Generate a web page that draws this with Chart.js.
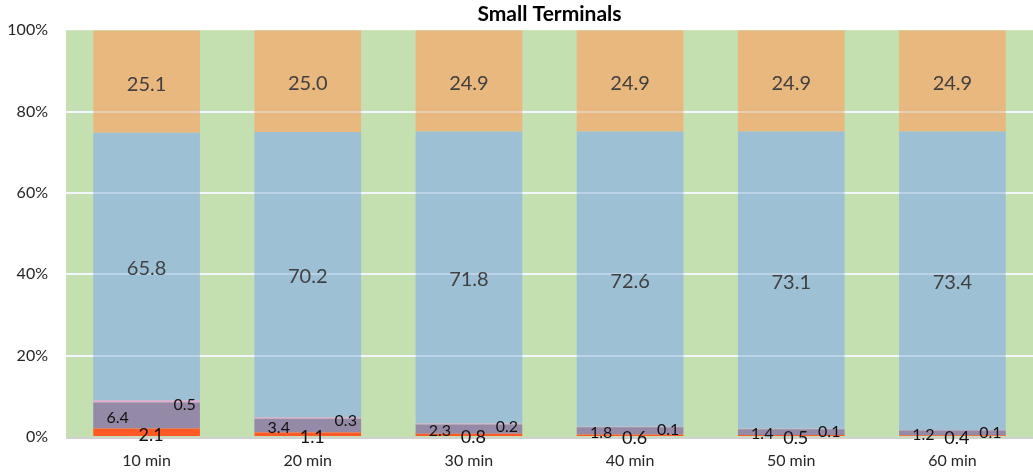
<!DOCTYPE html>
<html>
<head>
<meta charset="utf-8">
<script src="https://cdn.jsdelivr.net/npm/chart.js@4.4.0/dist/chart.umd.min.js"></script>
<style>
  html, body { margin: 0; padding: 0; background: #ffffff; }
  #wrap { width: 1033px; height: 475px; position: relative; }
</style>
</head>
<body>
<div id="wrap"><canvas id="c"></canvas></div>
<script>
const categories = ['10 min', '20 min', '30 min', '40 min', '50 min', '60 min'];
const redValues    = [2.1, 1.1, 0.8, 0.6, 0.5, 0.4];
const purpleValues = [6.4, 3.4, 2.3, 1.8, 1.4, 1.2];
const pinkValues   = [0.5, 0.3, 0.2, 0.1, 0.1, 0.1];
const blueValues   = [65.8, 70.2, 71.8, 72.6, 73.1, 73.4];
const orangeValues = [25.1, 25.0, 24.9, 24.9, 24.9, 24.9];
const yTickValues  = [0, 20, 40, 60, 80, 100];
const titleText = 'Small Terminals';

const FONT = 'Lato, "Open Sans", "DejaVu Sans", sans-serif';

// label style per dataset: dx offset from bar centre, font size, colour
const labelStyles = [
  { dx: 4.5, dy: 2.5, size: 18, color: '#111111' },   // red
  { dx: -29, dy: 2, size: 16, color: '#111111' },     // purple
  { dx: 38, dy: 3, size: 16, color: '#111111' },      // pink
  { dx: 0, dy: 2, size: 20, color: '#404040' },       // blue
  { dx: 0, dy: 2.5, size: 20, color: '#404040' }      // orange
];

const bgPlugin = {
  id: 'plotBg',
  beforeDraw(chart) {
    const a = chart.chartArea, ctx = chart.ctx;
    ctx.save();
    ctx.fillStyle = '#C4DFB0';
    ctx.fillRect(a.left, a.top, a.right - a.left, a.bottom - a.top);
    ctx.restore();
  }
};

const overlayPlugin = {
  id: 'overlay',
  afterDatasetsDraw(chart) {
    const ctx = chart.ctx, a = chart.chartArea, y = chart.scales.y;
    ctx.save();
    // faint gridlines through bars
    ctx.strokeStyle = 'rgba(225,235,255,0.45)';
    ctx.lineWidth = 2;
    [20, 40, 60, 80].forEach(v => {
      const py = Math.round(y.getPixelForValue(v));
      ctx.beginPath();
      ctx.moveTo(a.left, py);
      ctx.lineTo(a.right, py);
      ctx.stroke();
    });
    // bottom axis line
    ctx.strokeStyle = '#D0D0D0';
    ctx.lineWidth = 2;
    const by = y.getPixelForValue(0) + 1;
    ctx.beginPath();
    ctx.moveTo(a.left, by);
    ctx.lineTo(a.right, by);
    ctx.stroke();
    // data labels
    ctx.textAlign = 'center';
    ctx.textBaseline = 'middle';
    chart.data.datasets.forEach((ds, di) => {
      const meta = chart.getDatasetMeta(di);
      const st = labelStyles[di];
      ctx.font = st.size + 'px ' + FONT;
      ctx.fillStyle = st.color;
      meta.data.forEach((el, i) => {
        const cy = (el.y + el.base) / 2 + st.dy;
        ctx.fillText(ds.data[i].toFixed(1), el.x + st.dx, cy);
      });
    });
    ctx.restore();
  }
};

const mk = (label, data, color) => ({
  label, data, backgroundColor: color, borderWidth: 0,
  barPercentage: 0.662, categoryPercentage: 1.0, stack: 's'
});

new Chart(document.getElementById('c'), {
  type: 'bar',
  data: {
    labels: categories,
    datasets: [
      mk('Red', redValues, '#FF5A26'),
      mk('Purple', purpleValues, '#9489A6'),
      mk('Pink', pinkValues, '#E6A6D6'),
      mk('Blue', blueValues, '#9EC0D4'),
      mk('Orange', orangeValues, '#E9B87E')
    ]
  },
  options: {
    responsive: true,
    maintainAspectRatio: false,
    animation: false,
    layout: { padding: { left: 0, right: 0, top: 0, bottom: 0 } },
    plugins: {
      legend: { display: false },
      tooltip: { enabled: false },
      title: {
        display: true,
        text: titleText,
        fullSize: false,
        color: '#000000',
        font: { family: FONT, size: 21, weight: 'bold', lineHeight: 1.2 },
        padding: { top: 2, bottom: 3 }
      }
    },
    scales: {
      x: {
        stacked: true,
        grid: { display: false, drawTicks: false },
        border: { display: false },
        ticks: { color: '#262626', font: { family: FONT, size: 16 }, padding: 14 },
        afterFit(s) { s.height = 38; }
      },
      y: {
        stacked: true,
        min: 0, max: 100,
        afterBuildTicks(s) { s.ticks = yTickValues.map(v => ({ value: v })); },
        grid: {
          drawTicks: false,
          lineWidth: 2,
          color: ctx => (ctx.tick && (ctx.tick.value === 0 || ctx.tick.value === 100)) ? 'rgba(0,0,0,0)' : '#FFFFFF'
        },
        border: { display: false },
        ticks: {
          color: '#262626',
          font: { family: FONT, size: 16 },
          padding: 18,
          callback: v => v + '%'
        },
        afterFit(s) { s.width = 66; }
      }
    }
  },
  plugins: [bgPlugin, overlayPlugin]
});
</script>
</body>
</html>
